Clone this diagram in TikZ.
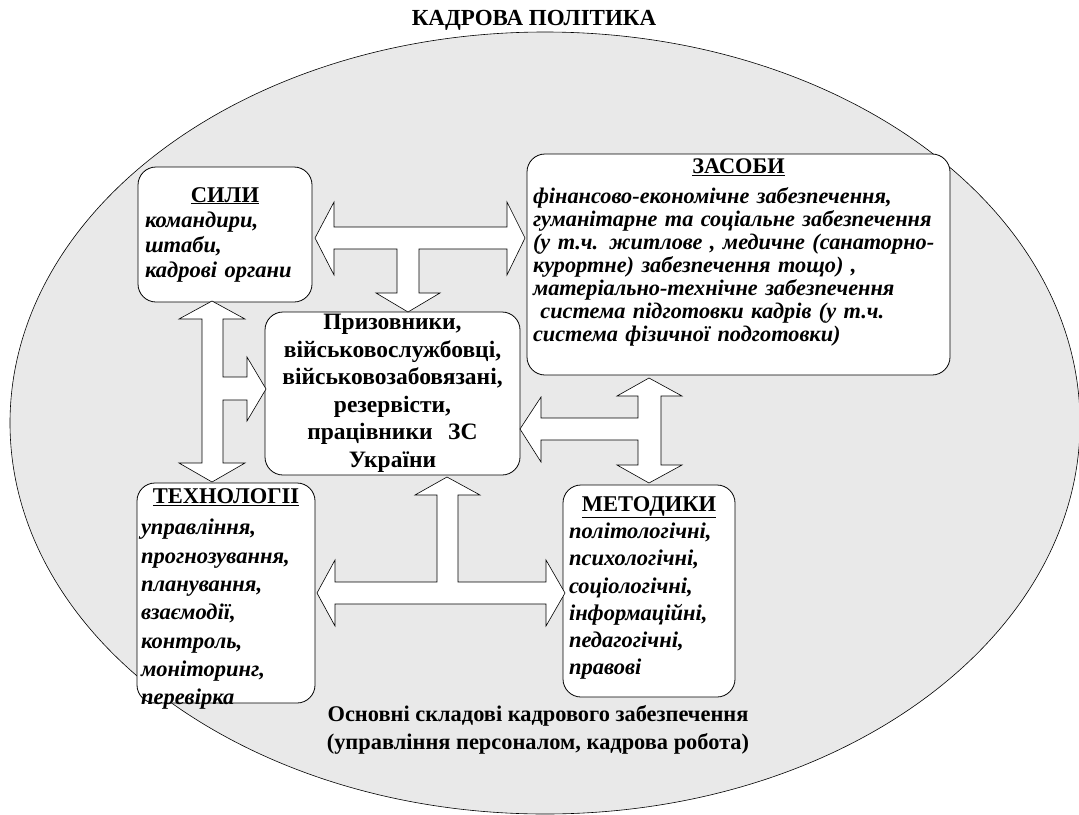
\documentclass[tikz,border=0pt]{standalone}
\usepackage{fontspec}
\setmainfont{LiberationSerif}[Extension=.ttf, UprightFont=*-Regular, BoldFont=*-Bold, ItalicFont=*-Italic, BoldItalicFont=*-BoldItalic]
\definecolor{ovalgray}{RGB}{233,233,233}
\tikzset{
  box/.style={draw=black, line width=0.8pt, fill=white, rounded corners=18pt, inner sep=0pt},
  boxtext/.style={inner sep=0pt, align=left},
  blockarrow/.style={draw=black, line width=0.6pt, fill=white, line join=miter},
}
\newcommand{\hd}[1]{\makebox[\hsize][c]{\upshape\underline{#1}}}
\begin{document}
\begin{tikzpicture}[x=1pt,y=-1pt]
\useasboundingbox (0,0) rectangle (1079,814);
% oval
\draw[fill=ovalgray, line width=0.6pt] (545,423) ellipse [x radius=535, y radius=391];
% title
\node[font=\fontsize{23}{26}\selectfont\bfseries] (title) at (534,20) {КАДРОВА ПОЛІТИКА};
% boxes
\node[box, minimum width=174pt, minimum height=135pt] (sily) at (225,234.5) {};
\node[boxtext, text width=160pt, font=\fontsize{22.5}{25}\selectfont\bfseries\itshape]
  (silyt) at (sily.center)
  {\hd{СИЛИ}\\командири,\\штаби,\\кадрові органи};
\node[box, minimum width=423pt, minimum height=221pt] (zasoby) at (738.5,264.5) {};
\node[boxtext, text width=411pt, font=\fontsize{22.3}{23}\selectfont\bfseries\itshape]
  (zasobyt) at ([yshift=12pt]zasoby.center)
  {\hd{ЗАСОБИ}\\[7pt]фінансово-економічне забезпечення,\\гуманітарне та соціальне забезпечення\\(у т.ч. житлове , медичне (санаторно-\\курортне) забезпечення тощо) ,\\матеріально-технічне забезпечення\\\ система підготовки кадрів (у т.ч.\\система фізичної подготовки)};
\node[box, minimum width=255pt, minimum height=163pt] (center) at (392.5,393.5) {};
\node[boxtext, text width=250pt, align=center, font=\fontsize{23.5}{27.5}\selectfont\bfseries]
  (centert) at (center.center)
  {Призовники,\\військовослужбовці,\\військовозабовязані,\\резервісти,\\працівники~ ЗС\\України};
\node[box, minimum width=178pt, minimum height=220pt] (tech) at (226,593) {};
\node[boxtext, text width=170pt, font=\fontsize{22.5}{28.3}\selectfont\bfseries\itshape]
  (techt) at ([yshift=-6pt]tech.center)
  {\hd{ТЕХНОЛОГІІ}\\[3pt]управління,\\прогнозування,\\планування,\\взаємодії,\\контроль,\\моніторинг,\\перевірка};
\node[box, minimum width=172pt, minimum height=212pt] (metod) at (649,591) {};
\node[boxtext, text width=160pt, font=\fontsize{22.5}{27.3}\selectfont\bfseries\itshape]
  (metodt) at ([yshift=3pt]metod.center)
  {\hd{МЕТОДИКИ}\\політологічні,\\психологічні,\\соціологічні,\\інформаційні,\\педагогічні,\\правові};
% bottom text
\node[font=\fontsize{22.4}{28}\selectfont\bfseries, align=center] (caption) at (538,730)
  {Основні складові кадрового забезпечення\\(управління персоналом, кадрова робота)};
% block arrows
\draw[blockarrow] (315,238) -- (334,202) -- (334,227) -- (507,227) -- (507,202) -- (525,238)
  -- (507,275) -- (507,249) -- (419,249) -- (419,293) -- (440,293) -- (408,312)
  -- (376,293) -- (397,293) -- (397,249) -- (334,249) -- (334,275) -- cycle;
\draw[blockarrow] (212,301) -- (245,319) -- (223,319) -- (223,377) -- (247,377) -- (247,357)
  -- (266,389) -- (247,421) -- (247,400) -- (223,400) -- (223,463) -- (245,463)
  -- (212,482) -- (179,463) -- (202,463) -- (202,319) -- (179,319) -- cycle;
\draw[blockarrow] (649,378) -- (682,396) -- (661,396) -- (661,465) -- (682,465) -- (649,483)
  -- (617,465) -- (638,465) -- (638,440) -- (541,440) -- (541,462) -- (520,429)
  -- (541,397) -- (541,418) -- (638,418) -- (638,396) -- (617,396) -- cycle;
\draw[blockarrow] (317,593) -- (335,560) -- (335,582) -- (437,582) -- (437,495) -- (415,495)
  -- (447,477) -- (480,495) -- (458,495) -- (458,582) -- (546,582) -- (546,560)
  -- (565,593) -- (546,626) -- (546,604) -- (335,604) -- (335,626) -- cycle;
\end{tikzpicture}
\end{document}
